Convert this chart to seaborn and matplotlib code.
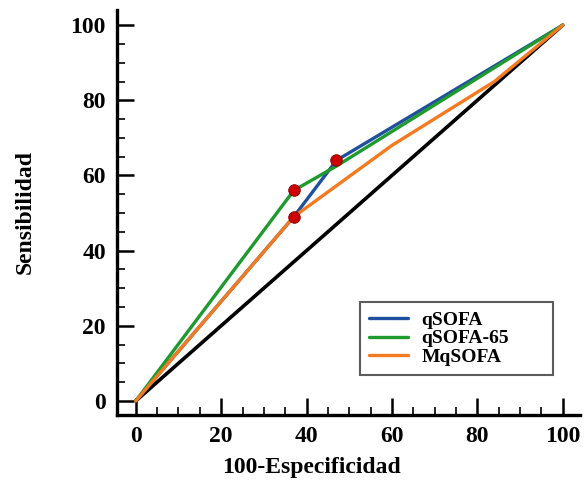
import matplotlib
matplotlib.use("Agg")
import matplotlib.pyplot as plt
import seaborn as sns
import pandas as pd
from matplotlib.ticker import MultipleLocator

# ROC curve points (100-Especificidad, Sensibilidad)
ref_x = [0, 100]
ref_y = [0, 100]
qsofa_x = [0, 37, 47, 100]
qsofa_y = [0, 49, 64, 100]
qsofa65_x = [0, 37, 47, 100]
qsofa65_y = [0, 56, 62.5, 100]
mqsofa_x = [0, 37, 60, 84, 100]
mqsofa_y = [0, 49, 68, 85, 100]
# cut-off points marked in red
cut_x = [37, 37, 47]
cut_y = [49, 56, 64]

series_names = ["qSOFA", "qSOFA-65", "MqSOFA"]
series_colors = ["#1f4f9e", "#1f9a2e", "#f47a20"]

sns.set_style("ticks")
plt.rcParams['font.family'] = ['Liberation Serif', 'DejaVu Serif']
plt.rcParams['font.weight'] = 'bold'
plt.rcParams['text.color'] = 'black'
plt.rcParams['axes.labelcolor'] = 'black'
plt.rcParams['xtick.color'] = 'black'
plt.rcParams['ytick.color'] = 'black'
plt.rcParams['axes.edgecolor'] = 'black'

fig = plt.figure(figsize=(5.88, 4.84), dpi=100)
ax = fig.add_axes([0.199, 0.143, 0.787, 0.836])

sns.lineplot(x=ref_x, y=ref_y, ax=ax, color="black", linewidth=2.6)

frames = [(qsofa_x, qsofa_y), (qsofa65_x, qsofa65_y), (mqsofa_x, mqsofa_y)]
for (xs, ys), name, col in zip(frames, series_names, series_colors):
    df = pd.DataFrame({"x": xs, "y": ys})
    sns.lineplot(data=df, x="x", y="y", ax=ax, color=col, linewidth=2.4,
                 label=name, sort=False)

sns.scatterplot(x=cut_x, y=cut_y, ax=ax, color="#cc0000", edgecolor="#8b0000",
                s=70, linewidth=0.6, zorder=5)

ax.set_xlim(-4.4, 104)
ax.set_ylim(-3.7, 104)
ax.xaxis.set_major_locator(MultipleLocator(20))
ax.yaxis.set_major_locator(MultipleLocator(20))
ax.xaxis.set_minor_locator(MultipleLocator(5))
ax.yaxis.set_minor_locator(MultipleLocator(5))
ax.tick_params(which="major", direction="in", length=12, width=1.8,
               labelsize=17, pad=8)
ax.tick_params(which="minor", direction="in", length=6, width=1.2)
for lbl in ax.get_xticklabels() + ax.get_yticklabels():
    lbl.set_fontweight("bold")

sns.despine(ax=ax)
for s in ["left", "bottom"]:
    ax.spines[s].set_linewidth(2.4)

ax.set_xlabel("100-Especificidad", fontsize=17, fontweight="bold")
ax.set_ylabel("Sensibilidad", fontsize=17, fontweight="bold")
ax.xaxis.set_label_coords(0.42, -0.105)
ax.yaxis.set_label_coords(-0.175, 0.5)

leg = ax.legend(loc="lower left", bbox_to_anchor=(0.525, 0.099, 0.417, 0.19),
                mode="expand", borderaxespad=0,
                prop={"size": 14, "weight": "bold"},
                frameon=True, fancybox=False, edgecolor="#333333",
                handlelength=2.0, handletextpad=0.7,
                borderpad=0.45, labelspacing=0.05)
leg.get_frame().set_linewidth(1.5)

fig.savefig("out.png", dpi=100)
